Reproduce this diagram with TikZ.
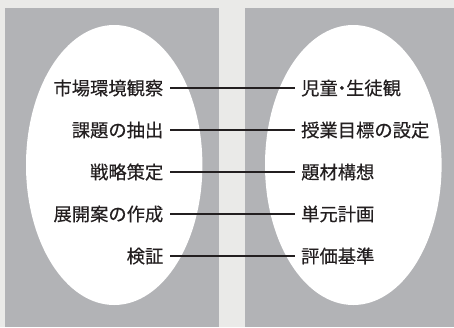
\documentclass[tikz,border=0pt]{standalone}
\usepackage{fontspec}
\newfontfamily\jp[FakeBold=0.3]{Noto Sans CJK JP}
\definecolor{bgc}{HTML}{EAEAE8}
\definecolor{panelc}{HTML}{B2B3B6}
\definecolor{inkc}{HTML}{231F20}
\tikzset{
  lbl/.style={font=\jp\fontsize{18.3}{20}\selectfont, text=inkc, inner xsep=6.5pt, inner ysep=0pt},
  lft/.style={lbl, anchor=east},
  rgt/.style={lbl, anchor=west},
  conn/.style={draw=inkc, line width=1.2pt},
  panel/.style={fill=panelc},
  oval/.style={fill=white}
}
\begin{document}
\begin{tikzpicture}[x=1pt,y=-1pt]
\useasboundingbox (0,0) rectangle (454,327);
\fill[bgc] (0,0) rectangle (454,327);
\fill[panel] (5,7.5) rectangle (219,327);
\fill[panel] (245,7.5) rectangle (454,327);
\fill[oval] (114.2,165) ellipse [x radius=88.2, y radius=140];
\fill[oval] (353.3,165) ellipse [x radius=88.3, y radius=140];
\node[lft] (l1) at (170,88) {市場環境観察};
\node[lft] (l2) at (170,130) {課題の抽出};
\node[lft] (l3) at (170,172) {戦略策定};
\node[lft] (l4) at (170,214) {展開案の作成};
\node[lft] (l5) at (170,256) {検証};
\node[rgt] (r1) at (294.5,88) {児童\kern-5pt・\kern-5pt生徒観};
\node[rgt] (r2) at (294.5,130) {授業目標の設定};
\node[rgt] (r3) at (294.5,172) {題材構想};
\node[rgt] (r4) at (294.5,214) {単元計画};
\node[rgt] (r5) at (294.5,256) {評価基準};
\foreach \i in {1,...,5} \draw[conn] (l\i.east) -- (r\i.west);
\end{tikzpicture}
\end{document}
